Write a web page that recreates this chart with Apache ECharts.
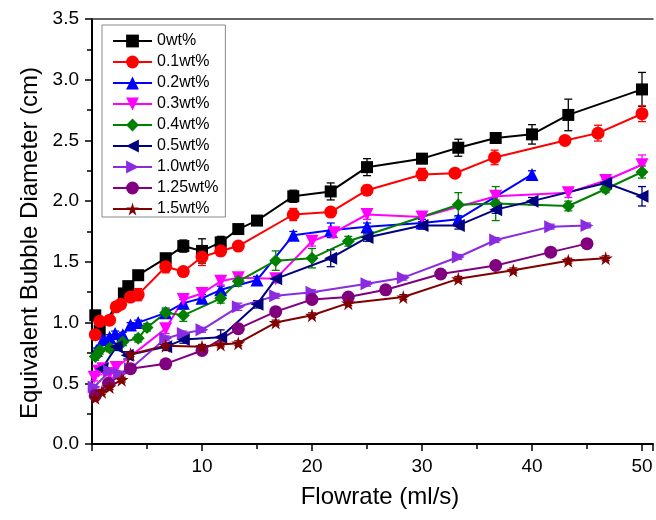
<!DOCTYPE html>
<html><head><meta charset="utf-8">
<script src="https://cdn.jsdelivr.net/npm/echarts@6/dist/echarts.min.js"></script>
<style>html,body{margin:0;padding:0;background:#fff}#c{width:656px;height:520px}</style>
</head><body><div id="c"></div>
<script>
const seriesNames = ['0wt%','0.1wt%','0.2wt%','0.3wt%','0.4wt%','0.5wt%','1.0wt%','1.25wt%','1.5wt%'];
const xTicks = [10,20,30,40,50];
const yTicks = [0.0,0.5,1.0,1.5,2.0,2.5,3.0,3.5];

const x0 = [0.3,0.7,2.9,3.3,4.2,6.7,8.3,10,11.7,13.3,15,18.3,21.7,25,30,33.3,36.7,40,43.3,50];
const y0 = [1.06,0.93,1.24,1.30,1.39,1.53,1.63,1.59,1.66,1.77,1.84,2.04,2.08,2.28,2.35,2.44,2.52,2.55,2.71,2.92];
const e0 = [0.02,0.03,0.02,0.02,0.02,0.03,0.05,0.10,0.05,0.03,0.02,0.05,0.07,0.07,0.04,0.07,0.04,0.08,0.13,0.14];

const x1 = [0.3,0.7,1.6,2.2,2.6,3.5,4.2,6.7,8.3,10,11.7,13.3,18.3,21.7,25,30,33,36.6,43,46,50];
const y1 = [0.90,1.01,1.02,1.13,1.15,1.21,1.23,1.46,1.42,1.54,1.59,1.63,1.89,1.91,2.09,2.22,2.23,2.36,2.50,2.56,2.72];
const e1 = [0.03,0.02,0.02,0.02,0.02,0.02,0.05,0.05,0.03,0.07,0.04,0.02,0.05,0.03,0.04,0.05,0.03,0.06,0.03,0.065,0.065];

const x2 = [0.4,1.0,1.6,2.1,2.8,3.5,4.2,6.7,8.3,10,11.7,15,18.3,21.7,25,30,33.3,40];
const y2 = [0.77,0.86,0.88,0.91,0.90,0.98,1.00,1.08,1.16,1.20,1.27,1.35,1.72,1.76,1.79,1.82,1.85,2.22];
const e2 = [0.02,0.02,0.02,0.02,0.02,0.02,0.02,0.03,0.03,0.03,0.03,0.03,0.03,0.06,0.03,0.03,0.03,0.03];

const x3 = [0.2,0.6,1.0,1.6,2.2,6.7,8.3,10,11.7,13.3,16.7,20,22,25,30,36.7,43.3,46.7,50];
const y3 = [0.55,0.60,0.62,0.58,0.63,0.95,1.19,1.24,1.34,1.37,1.36,1.67,1.74,1.89,1.87,2.04,2.07,2.17,2.30];
const e3 = [0.03,0.03,0.03,0.03,0.03,0.04,0.04,0.03,0.03,0.03,0.03,0.04,0.04,0.04,0.04,0.03,0.04,0.03,0.08];

const x4 = [0.3,0.7,1.6,2.8,4.2,5.0,6.7,8.3,11.7,13.3,16.7,20,23.3,33.3,36.7,43.3,46.7,50];
const y4 = [0.72,0.77,0.79,0.84,0.87,0.96,1.08,1.06,1.20,1.34,1.51,1.53,1.67,1.97,1.98,1.96,2.10,2.24];
const e4 = [0.03,0.03,0.03,0.03,0.03,0.03,0.04,0.05,0.04,0.04,0.08,0.08,0.04,0.10,0.14,0.04,0.03,0.05];

const x5 = [0.9,2.2,3.2,6.7,8.3,11.7,15,16.7,21.7,25,30,33.3,36.7,40,46.7,50];
const y5 = [0.62,0.80,0.73,0.80,0.86,0.88,1.15,1.36,1.53,1.70,1.80,1.80,1.93,2.00,2.15,2.04];
const e5 = [0.03,0.03,0.03,0.03,0.03,0.06,0.03,0.03,0.07,0.03,0.03,0.03,0.03,0.03,0.03,0.08];

const x6 = [0.2,1.6,2.5,3.5,6.7,8.3,10,13.3,16.7,20,25,28.3,33.3,36.7,41.7,45];
const y6 = [0.47,0.60,0.58,0.62,0.87,0.91,0.94,1.13,1.22,1.25,1.32,1.37,1.54,1.68,1.79,1.80];
const e6 = [0.02,0.02,0.02,0.02,0.02,0.02,0.02,0.03,0.02,0.02,0.02,0.02,0.02,0.02,0.02,0.02];

const x7 = [0.3,1.5,3.5,6.7,10,13.3,16.7,20,23.3,26.7,31.7,36.7,41.7,45];
const y7 = [0.40,0.50,0.62,0.66,0.77,0.95,1.09,1.19,1.21,1.27,1.40,1.47,1.58,1.65];
const e7 = [0.02,0.02,0.02,0.02,0.02,0.02,0.02,0.02,0.02,0.02,0.02,0.02,0.02,0.02];

const x8 = [0.3,0.9,1.6,2.7,3.5,6.7,10,11.7,13.3,16.7,20,23.3,28.3,33.3,38.3,43.3,46.7];
const y8 = [0.38,0.43,0.47,0.53,0.74,0.81,0.80,0.82,0.83,1.00,1.06,1.16,1.21,1.36,1.43,1.51,1.53];
const e8 = [0.02,0.02,0.02,0.02,0.02,0.02,0.02,0.02,0.02,0.02,0.02,0.02,0.02,0.02,0.02,0.02,0.02];

const XS = [x0,x1,x2,x3,x4,x5,x6,x7,x8];
const YS = [y0,y1,y2,y3,y4,y5,y6,y7,y8];
const ES = [e0,e1,e2,e3,e4,e5,e6,e7,e8];

const colors = ['#000000','#ff0000','#0000ff','#ff00ff','#008000','#000080','#8a2be2','#800080','#800000'];
const STAR = 'path://M50,0 L61,35 L98,35 L68,57 L79,91 L50,70 L21,91 L32,57 L2,35 L39,35 Z';
const symbols = ['rect','circle','triangle','triangle','diamond','triangle','triangle','circle',STAR];
const rotates = [0,0,0,180,0,90,-90,0,0];
const sizes = [12,13,13,13,13,13,13,13,14];
const FONT = '"Liberation Sans", Arial, sans-serif';

const series = [];
for (let k = 0; k < 9; k++) {
  const col = colors[k];
  series.push({
    type: 'custom',
    name: seriesNames[k] + ' err',
    silent: true,
    z: 2,
    data: XS[k].map((x, i) => [x, YS[k][i] - ES[k][i], YS[k][i] + ES[k][i]]),
    encode: { x: 0, y: [1, 2] },
    renderItem: function (params, api) {
      const x = api.value(0);
      const lo = api.coord([x, api.value(1)]);
      const hi = api.coord([x, api.value(2)]);
      const w = 4;
      const st = { stroke: col, lineWidth: 1.3 };
      return { type: 'group', children: [
        { type: 'line', shape: { x1: lo[0], y1: lo[1], x2: hi[0], y2: hi[1] }, style: st },
        { type: 'line', shape: { x1: lo[0]-w, y1: lo[1], x2: lo[0]+w, y2: lo[1] }, style: st },
        { type: 'line', shape: { x1: hi[0]-w, y1: hi[1], x2: hi[0]+w, y2: hi[1] }, style: st }
      ]};
    }
  });
  series.push({
    type: 'line',
    name: seriesNames[k],
    z: 3,
    data: XS[k].map((x, i) => [x, YS[k][i]]),
    symbol: symbols[k],
    symbolRotate: rotates[k],
    symbolSize: sizes[k],
    showAllSymbol: true,
    clip: false,
    color: col,
    lineStyle: { color: col, width: 2 },
    itemStyle: { color: col, borderWidth: 0 },
    emphasis: { disabled: true }
  });
}

const chart = echarts.init(document.getElementById('c'), null, { renderer: 'canvas' });
chart.setOption({
  animation: false,
  backgroundColor: '#fff',
  textStyle: { fontFamily: FONT },
  grid: { left: 92, right: 0, top: 19, bottom: 76 },
  legend: {
    data: seriesNames,
    orient: 'vertical',
    left: 102, top: 25,
    itemWidth: 39, itemHeight: 16, itemGap: 5,
    padding: [8, 7, 0, 10],
    borderColor: '#888', borderWidth: 1,
    backgroundColor: '#fff',
    textStyle: { fontSize: 16, lineHeight: 16, color: '#000', fontFamily: FONT },
    selectedMode: false
  },
  xAxis: [{
    type: 'value', min: 0, max: 51, interval: 10,
    axisLine: { show: true, lineStyle: { color: '#000', width: 2 } },
    axisTick: { show: true, inside: false, length: 7, lineStyle: { color: '#000', width: 1.5 } },
    minorTick: { show: true, splitNumber: 2, length: 5, lineStyle: { color: '#000', width: 1.5 } },
    splitLine: { show: false },
    axisLabel: { fontSize: 19, color: '#000', margin: 13, fontFamily: FONT,
      formatter: v => (xTicks.indexOf(v) >= 0 ? String(v) : '') }
  }, {
    type: 'value', position: 'top', min: 0, max: 51,
    axisLine: { show: true, onZero: false, lineStyle: { color: '#333', width: 1.5 } },
    axisTick: { show: false }, axisLabel: { show: false }, splitLine: { show: false }
  }],
  yAxis: {
    type: 'value', min: 0, max: 3.5, interval: 0.5,
    axisLine: { show: true, lineStyle: { color: '#000', width: 2 } },
    axisTick: { show: true, inside: false, length: 7, lineStyle: { color: '#000', width: 1.5 } },
    minorTick: { show: true, splitNumber: 2, length: 5, lineStyle: { color: '#000', width: 1.5 } },
    splitLine: { show: false },
    axisLabel: { fontSize: 19, color: '#000', margin: 13, fontFamily: FONT,
      formatter: v => { const t = yTicks.find(q => Math.abs(q - v) < 1e-6); return t === undefined ? '' : t.toFixed(1); } }
  },
  graphic: [
    { type: 'text', x: 30, y: 243, rotation: Math.PI / 2,
      style: { text: 'Equivalent Bubble Diameter (cm)', font: '24px ' + FONT, fill: '#000', align: 'center', verticalAlign: 'middle' } },
    { type: 'text', x: 380, y: 497,
      style: { text: 'Flowrate (ml/s)', font: '24px ' + FONT, fill: '#000', align: 'center', verticalAlign: 'middle' } }
  ],
  series: series
});
</script>
</body></html>
